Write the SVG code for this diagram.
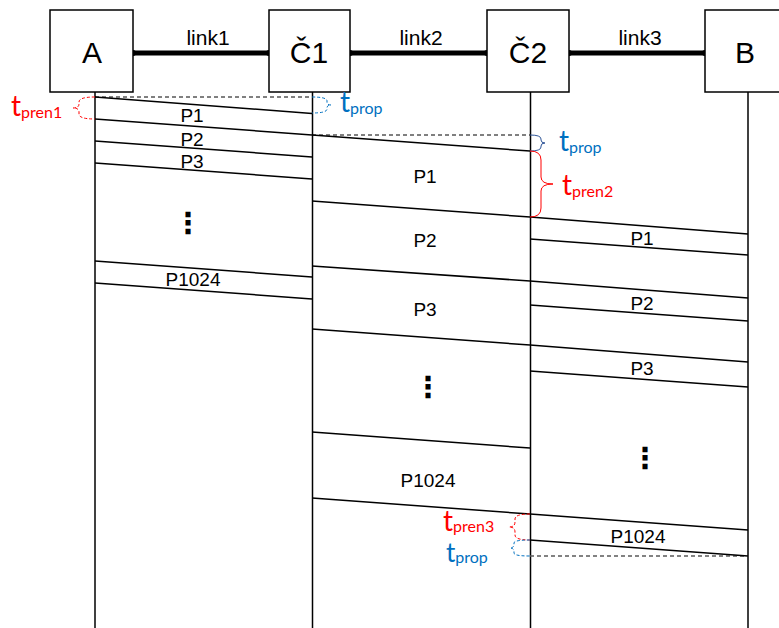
<svg xmlns="http://www.w3.org/2000/svg" width="779" height="628" viewBox="0 0 779 628">
<style>
.box{fill:#fff;stroke:#000;stroke-width:1.5}
.nl{font-family:"Liberation Sans",Arial,sans-serif;font-size:30px;text-anchor:middle;fill:#000}
.ll{font-family:"Liberation Sans",Arial,sans-serif;font-size:21px;text-anchor:middle;fill:#000}
.pl{font-family:"Liberation Sans",Arial,sans-serif;font-size:19px;text-anchor:middle;fill:#000}
.dots{font-family:"DejaVu Sans",sans-serif;font-size:29px;font-weight:bold;text-anchor:middle;fill:#000}
.life{stroke:#000;stroke-width:1.5;fill:none}
.pk{stroke:#000;stroke-width:1.5;fill:none}
.link{stroke:#000;stroke-width:5}
.dash{stroke:#000;stroke-width:1;stroke-dasharray:4 3;fill:none}
.dashg{stroke:#595959;stroke-width:1.3;stroke-dasharray:4 3;fill:none}
.br{stroke:#ff0000;stroke-width:1;fill:none}
.brd{stroke:#ff0000;stroke-width:1;fill:none;stroke-dasharray:3 2}
.bb{stroke:#2f5597;stroke-width:1;fill:none}
.bbd{stroke:#0070c0;stroke-width:1;fill:none;stroke-dasharray:3 2}
.tr{font-family:Lato,"Open Sans",sans-serif;font-size:28px;fill:#ff0000}
.tb{font-family:Lato,"Open Sans",sans-serif;font-size:28px;fill:#0070c0}
.sub{font-size:16px}
</style>
<g id="links">
<line class="link" x1="133" y1="53" x2="269" y2="53"/>
<line class="link" x1="350" y1="53" x2="487" y2="53"/>
<line class="link" x1="569" y1="53" x2="705" y2="53"/>
<circle cx="133" cy="53" r="3"/><circle cx="269" cy="53" r="3"/>
<circle cx="350" cy="53" r="3"/><circle cx="487" cy="53" r="3"/>
<circle cx="569" cy="53" r="3"/><circle cx="705" cy="53" r="3"/>
<text class="ll" x="208" y="45">link1</text>
<text class="ll" x="421" y="45">link2</text>
<text class="ll" x="640" y="45">link3</text>
</g>
<g id="lifelines">
<line class="life" x1="95" y1="92" x2="95" y2="628"/>
<line class="life" x1="312.5" y1="92" x2="312.5" y2="628"/>
<line class="life" x1="530.5" y1="92" x2="530.5" y2="628"/>
<line class="life" x1="748" y1="92" x2="748" y2="628"/>
</g>
<g id="node-A"><rect class="box" x="50" y="10" width="83" height="82"/><text class="nl" x="92" y="63">A</text></g>
<g id="node-C1"><rect class="box" x="269" y="10" width="81" height="82"/><text class="nl" x="309" y="63">Č1</text></g>
<g id="node-C2"><rect class="box" x="487" y="10" width="82" height="82"/><text class="nl" x="528" y="63">Č2</text></g>
<g id="node-B"><rect class="box" x="705" y="10" width="86" height="82"/><text class="nl" x="745" y="63">B</text></g>
<g id="connectors">
<line class="dash" x1="95" y1="97" x2="312" y2="97"/>
<line class="dash" x1="312" y1="135" x2="530" y2="135"/>
<line class="dashg" x1="530" y1="556" x2="748" y2="556"/>
<line class="pk" x1="95" y1="97" x2="312" y2="113.5"/>
<line class="pk" x1="95" y1="119" x2="312" y2="135"/>
<line class="pk" x1="95" y1="141" x2="312" y2="157"/>
<line class="pk" x1="95" y1="163" x2="312" y2="179"/>
<line class="pk" x1="95" y1="261" x2="312" y2="277"/>
<line class="pk" x1="95" y1="283" x2="312" y2="299"/>
<line class="pk" x1="312" y1="135" x2="530" y2="151"/>
<line class="pk" x1="312" y1="201" x2="530" y2="217"/>
<line class="pk" x1="312" y1="266" x2="530" y2="281"/>
<line class="pk" x1="312" y1="329" x2="530" y2="345"/>
<line class="pk" x1="312" y1="432" x2="530" y2="448"/>
<line class="pk" x1="312" y1="498" x2="530" y2="514"/>
<line class="pk" x1="530" y1="217" x2="748" y2="234"/>
<line class="pk" x1="530" y1="239" x2="748" y2="255"/>
<line class="pk" x1="530" y1="281" x2="748" y2="298"/>
<line class="pk" x1="530" y1="305" x2="748" y2="321"/>
<line class="pk" x1="530" y1="345" x2="748" y2="362"/>
<line class="pk" x1="530" y1="371" x2="748" y2="387"/>
<line class="pk" x1="530" y1="514" x2="748" y2="530"/>
<line class="pk" x1="530" y1="540" x2="748" y2="556"/>
</g>
<g id="packet-labels">
<text class="pl" x="192" y="122">P1</text>
<text class="pl" x="192" y="146">P2</text>
<text class="pl" x="192" y="168">P3</text>
<text class="dots" x="188" y="233">⋮</text>
<text class="pl" x="193" y="286">P1024</text>
<text class="pl" x="425" y="183">P1</text>
<text class="pl" x="425" y="247">P2</text>
<text class="pl" x="425" y="316">P3</text>
<text class="dots" x="428" y="397">⋮</text>
<text class="pl" x="428" y="487">P1024</text>
<text class="pl" x="642" y="245">P1</text>
<text class="pl" x="642" y="310">P2</text>
<text class="pl" x="642" y="375">P3</text>
<text class="dots" x="645" y="468">⋮</text>
<text class="pl" x="638" y="543">P1024</text>
</g>
<g id="tpren1">
<path class="brd" d="M95 97 Q79 97 79 102 L79 104 Q79 108 73 108 Q79 108 79 112 L79 114 Q79 119 95 119"/>
<text class="tr" x="11" y="116">t<tspan class="sub" dy="2">pren1</tspan></text>
</g>
<g id="tprop1">
<path class="bbd" d="M312 97 Q327 97 327 101 L327 102 Q327 105 331 105 Q327 105 327 108 L327 109 Q327 113 312 113"/>
<text class="tb" x="340" y="112">t<tspan class="sub" dy="2">prop</tspan></text>
</g>
<g id="tprop2">
<path class="bb" d="M530 135 Q541 135 541 139 L541 140 Q541 143 545 143 Q541 143 541 146 L541 147 Q541 151 530 151"/>
<text class="tb" x="559" y="151">t<tspan class="sub" dy="2">prop</tspan></text>
</g>
<g id="tpren2">
<path class="br" d="M530 151 Q541 151 541 160 L541 177 Q541 184 553 184 Q541 184 541 191 L541 208 Q541 217 530 217"/>
<text class="tr" x="562" y="195">t<tspan class="sub" dy="2">pren2</tspan></text>
</g>
<g id="tpren3">
<path class="brd" d="M530 514 Q515 514 515 519 L515 522 Q515 527 509 527 Q515 527 515 532 L515 535 Q515 540 530 540"/>
<text class="tr" x="443" y="531">t<tspan class="sub" dy="1">pren3</tspan></text>
</g>
<g id="tprop3">
<path class="bbd" d="M530 540 Q514 540 514 543 L514 544 Q514 548 510 548 Q514 548 514 552 L514 553 Q514 556 530 556"/>
<text class="tb" x="446" y="562" style="font-size:26px">t<tspan class="sub" dy="1">prop</tspan></text>
</g>
</svg>
